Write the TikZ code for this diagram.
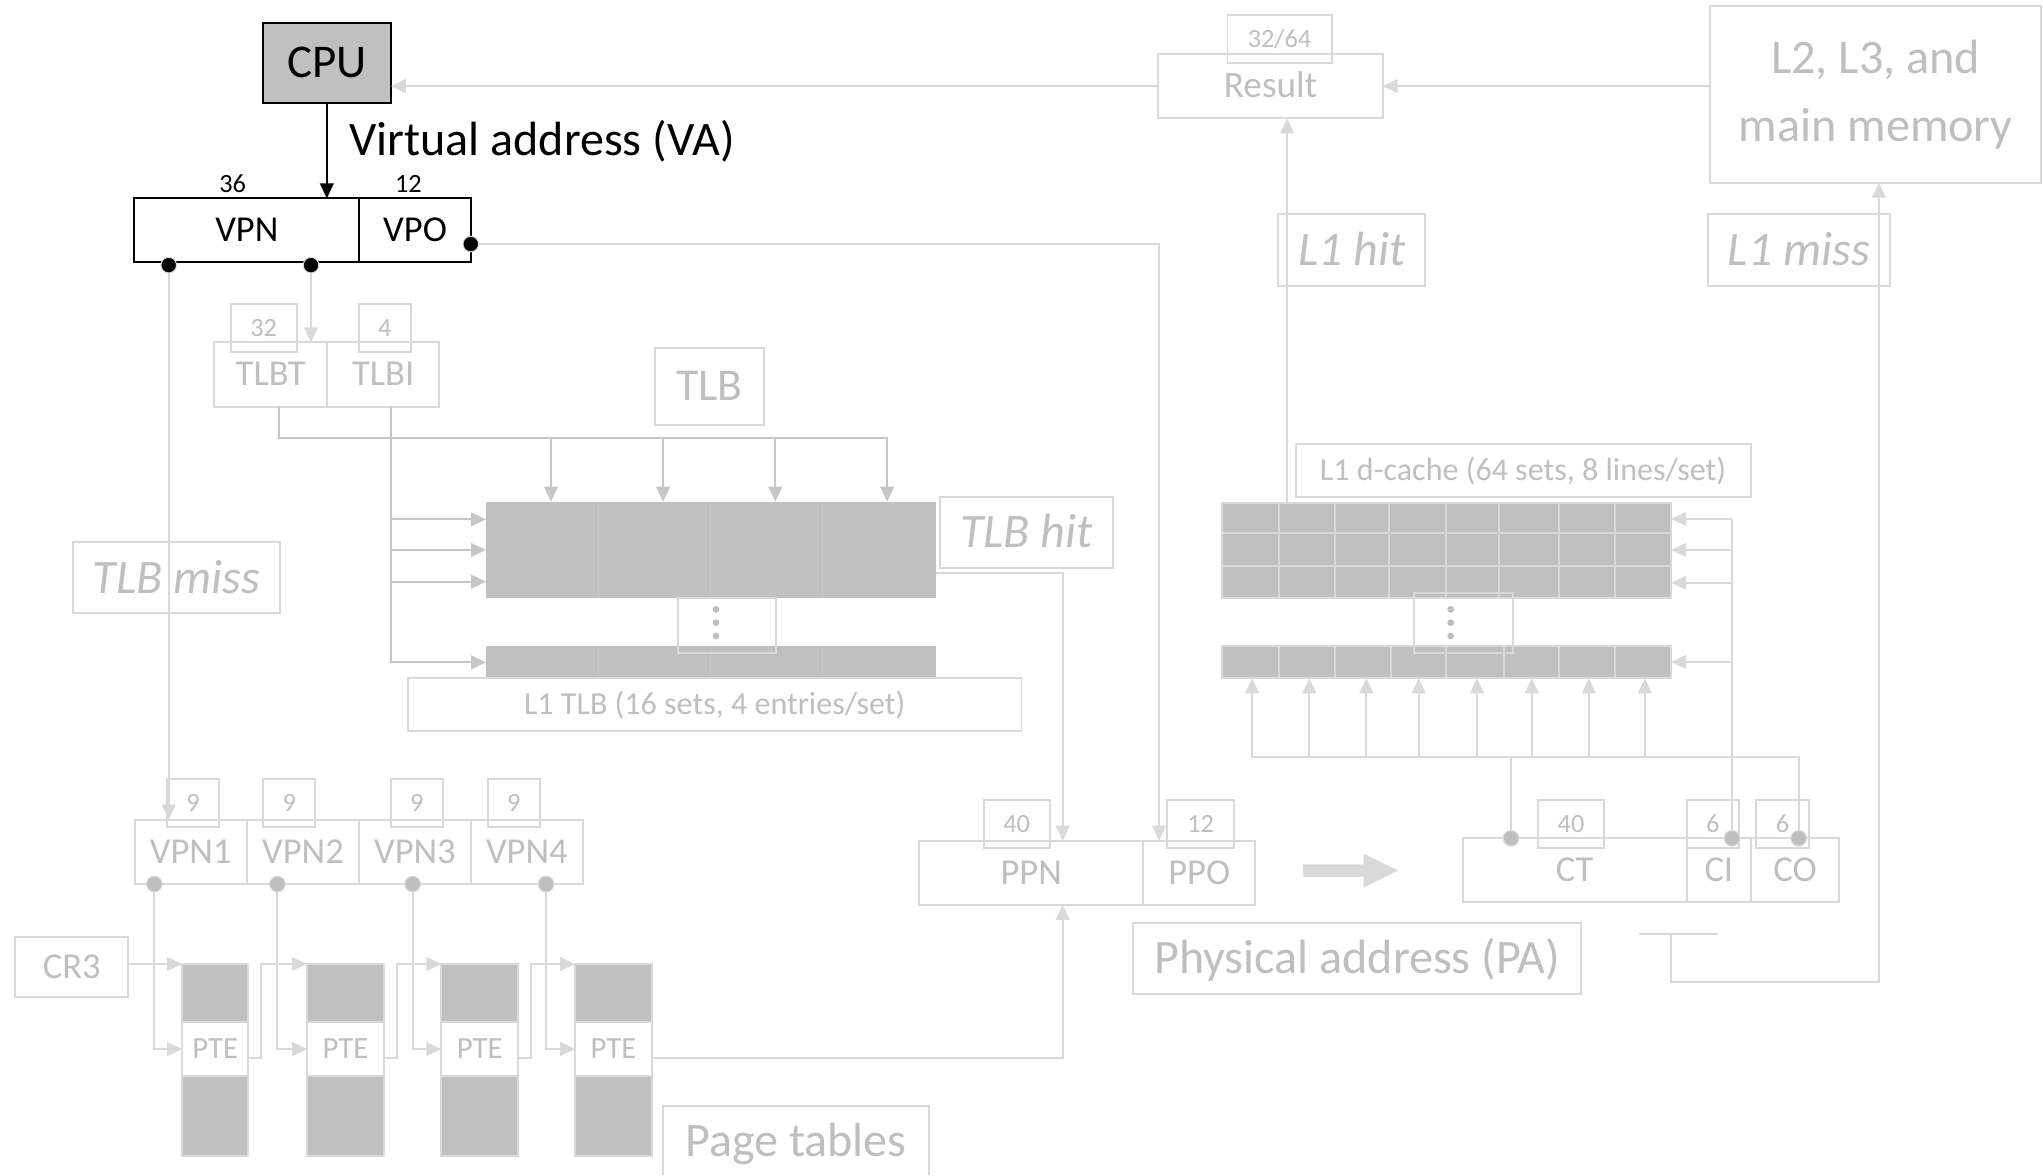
\documentclass[tikz,border=0pt]{standalone}
\usepackage{fontspec}
\setmainfont{Carlito}
\usetikzlibrary{arrows.meta,calc}
\definecolor{lineg}{HTML}{D9D9D9}
\definecolor{textg}{HTML}{BFBFBF}
\definecolor{fillg}{HTML}{C0C0C0}
\definecolor{arrg}{HTML}{C6C6C6}
\definecolor{seamg}{HTML}{C9C9C9}
\newcommand{\fsz}[1]{\fontsize{#1}{#1}\selectfont}

\begin{document}
\begin{tikzpicture}[x=1pt, y=-1pt,
  every node/.style={inner sep=0pt, outer sep=0pt},
  % a rectangle given by its left/top/right/bottom edges
  spanxy/.style args={#1/#2/#3/#4}{at={({(#1+#3)/2},{(#2+#4)/2})},
      minimum width={#3-#1}, minimum height={#4-#2}},
  gbox/.style={draw=lineg, line width=1.5pt, text=textg},
  bbox/.style={draw=black, line width=1.6pt, text=black},
  szbig/.style={font=\fsz{36.9}, text height=23.3pt, text depth=0pt},
  szbigit/.style={font=\fsz{36.9}\itshape, text height=23.3pt, text depth=0pt},
  szmid/.style={font=\fsz{28}, text height=17.7pt, text depth=0pt},
  szlab/.style={font=\fsz{24.6}, text height=15.5pt, text depth=0pt},
  szpte/.style={font=\fsz{23.6}, text height=14.9pt, text depth=0pt},
  szsmall/.style={font=\fsz{20.2}, text height=12.8pt, text depth=0pt},
  grayblk/.style={fill=fillg, draw=none},
  grayseg/.style={fill=fillg, draw=lineg, line width=1.5pt},
  gline/.style={draw=lineg, line width=1.5pt},
  dline/.style={draw=arrg, line width=1.5pt},
  arrowhd/.style={-{Triangle[length=11.5pt,width=10.5pt]}},
  garr/.style={gline, arrowhd},
  darr/.style={dline, arrowhd},
  barr/.style={draw=black, line width=1.6pt, arrowhd},
  bdot/.style={circle, fill=black, draw=lineg, line width=0.8pt, minimum size=12pt},
  gdot/.style={circle, fill=textg, draw=lineg, line width=0.8pt, minimum size=12pt},
]
\fill[white] (0,0) rectangle (1568,902);
\useasboundingbox (0,0) rectangle (1568,902);

% ---------------- CPU and virtual address ----------------
\node[bbox, fill=fillg, font=\fsz{36}, text height=22.8pt, text depth=0pt,
      spanxy=201.7/17.9/300/78.8] (cpu) {CPU};
\node[szbig, text=black, anchor=west] (va) at (268,108) {Virtual address (VA)};
\node[szsmall, text=black] (w36) at (178.6,141) {36};
\node[szsmall, text=black] (w12) at (313.4,141) {12};
\node[bbox, szmid, spanxy=103.1/152.2/275.8/201.3] (vpn) {VPN};
\node[bbox, szmid, spanxy=275.8/152.2/361.3/201.3] (vpo) {VPO};
\draw[barr] (cpu.south) -- (cpu.south |- vpn.north);
\node[bdot] (dv1) at (129.5,203.5) {};
\node[bdot] (dv2) at (238.7,203.5) {};
\node[bdot] (dvpo) at (361.3,187.3) {};

% ---------------- TLB index / tag ----------------
\node[gbox, szmid, spanxy=164.5/262.7/251/312.1] (tlbt) {TLBT};
\node[gbox, szmid, spanxy=251/262.7/337.2/312.1] (tlbi) {TLBI};
\node[gbox, szsmall, spanxy=177/233.3/227.7/270.4] (w32) {32};
\node[gbox, szsmall, spanxy=275.3/233.3/315.5/270.4] (w4) {4};
\draw[garr] (dv2) -- (dv2 |- tlbt.north);

\node[gbox, font=\fsz{35}, text height=22.1pt, text depth=0pt,
      spanxy=502.4/266.8/586.6/326] (tlblab) {TLB};

% ---------------- TLB array ----------------
\node[grayblk, spanxy=373/385/718.2/459.2] (tlbblk) {};
\node[grayblk, spanxy=373/495.6/718.2/521] (tlbbar) {};
\foreach \x in {459.6,545.1,631.3} {
  \draw[seamg, line width=1pt] (\x,385) -- (\x,459.2);
  \draw[seamg, line width=1pt] (\x,495.6) -- (\x,521);
}
\node[draw=lineg, line width=1.5pt, spanxy=520.5/459.2/595.7/500.9] (tlbgap) {};
\foreach \y in {467.7,477.9,488.1} \fill[textg] (549.5,\y) circle (2.6);

\node[gbox, szbigit, spanxy=721.8/381.2/853.9/436.2] (tlbhit) {TLB hit};
\node[gbox, szbigit, spanxy=56/416.3/215/470.8] (tlbmiss) {TLB miss};
\node[gbox, szlab, spanxy=313/520.6/784/560.8] (l1tlb) {L1 TLB (16 sets, 4 entries/set)};

% tag bus into the four ways
\coordinate (tb0) at (213.9,336.4);
\coordinate (tb1) at (680.9,336.4);
\draw[darr] (tlbt.south -| tb0) |- (tb1) -- (tlbblk.north -| tb1);
\foreach \x in {422.9,508.9,595.1}
  \draw[darr] (\x,336.4) -- (tlbblk.north -| \x,0);
% index bus into the sets
\coordinate (ti0) at (299.8,312.1);
\draw[darr] (tlbi.south -| ti0) |- (tlbbar.west);
\foreach \y in {398.6,422.1,446.4}
  \draw[darr] (ti0 |- 0,\y) -- (tlbblk.west |- 0,\y);

% ---------------- Page walk ----------------
\node[gbox, szmid, spanxy=103.3/629/189.4/678.5] (vpn1) {VPN1};
\node[gbox, szmid, spanxy=189.4/629/275.6/678.5] (vpn2) {VPN2};
\node[gbox, szmid, spanxy=275.6/629/361.3/678.5] (vpn3) {VPN3};
\node[gbox, szmid, spanxy=361.3/629/447.4/678.5] (vpn4) {VPN4};
\node[gbox, szsmall, spanxy=128.3/598/167.9/635] (w9a) {9};
\node[gbox, szsmall, spanxy=202.2/598/241.8/635] (w9b) {9};
\node[gbox, szsmall, spanxy=300/598/339.7/635] (w9c) {9};
\node[gbox, szsmall, spanxy=374.5/598/414.1/635] (w9d) {9};
\draw[garr] (dv1) -- (dv1 |- vpn1.north);

\node[gbox, szmid, spanxy=11.7/719/98.4/765] (cr3) {CR3};

\foreach \i/\l/\r in {1/139.8/190.5, 2/235.7/294.7, 3/338.8/397.5, 4/441.3/500.5} {
  \node[grayseg, spanxy=\l/739.9/\r/784.7] (ptop\i) {};
  \node[gbox, szpte, spanxy=\l/784.7/\r/825.6] (pte\i) {PTE};
  \node[grayseg, spanxy=\l/825.6/\r/887.3] (pbot\i) {};
}
\draw[garr] (cr3.east |- ptop1.north) -- (ptop1.north west);

\foreach \i/\x in {1/118.5, 2/212.9, 3/316.7, 4/419.1} {
  \node[gdot] (vd\i) at (\x,678.5) {};
  \draw[garr] (vd\i) |- (pte\i.west);
}
\foreach \i/\j/\cx in {1/2/200.6, 2/3/304.8, 3/4/407.9} {
  \coordinate (ch\i) at (\cx,812.3);
  \draw[garr] (pte\i.east |- ch\i) -- (ch\i) |- (ptop\j.north west);
}

\node[szbig, text=textg] (ptlab) at (610.85,876.3) {Page tables};
\draw[gline] (509,902) |- (712.7,849) -- (712.7,902);

% ---------------- Physical address ----------------
\node[gbox, szmid, spanxy=705.2/645.2/877.6/694.4] (ppn) {PPN};
\node[gbox, szmid, spanxy=877.6/645.2/963.2/694.4] (ppo) {PPO};
\node[gbox, szsmall, spanxy=755/614/805.6/650.6] (w40a) {40};
\node[gbox, szsmall, spanxy=896/614/947.1/650.6] (w12b) {12};
\node[gbox, szbig, spanxy=869.7/708.2/1213.5/762.6] (palab) {Physical address (PA)};

\coordinate (ch4) at (815.6,812.3);
\draw[garr] (pte4.east |- ch4) -| (ppn.south -| ch4);
\coordinate (hitx) at (815.6,439.5);
\draw[garr] (tlbblk.east |- hitx) -| (ppn.north -| hitx);
\draw[garr] (dvpo) -| ([xshift=12pt]ppo.north west);

\fill[lineg] (1000.2,663.4) -- (1046.5,663.4) -- (1046.5,655) -- (1072.9,668.15)
  -- (1046.5,681.3) -- (1046.5,672.9) -- (1000.2,672.9) -- cycle;

\node[gbox, szmid, spanxy=1122.6/643.4/1294.5/692.6] (ct) {CT};
\node[gbox, szmid, spanxy=1294.5/643.4/1343.9/692.6] (ci) {CI};
\node[gbox, szmid, spanxy=1343.9/643.4/1411.5/692.6] (co) {CO};
\node[gbox, szsmall, spanxy=1180.2/614/1231.3/650.6] (w40b) {40};
\node[gbox, szsmall, spanxy=1294.5/614/1334.7/650.6] (w6a) {6};
\node[gbox, szsmall, spanxy=1347.8/614/1388.2/650.6] (w6b) {6};
\node[gdot] (ctd) at (1159.7,643.4) {};
\node[gdot] (cid) at (1329.4,643.4) {};
\node[gdot] (cod) at (1380.5,643.4) {};

% ---------------- L1 d-cache ----------------
\node[gbox, szlab, spanxy=994.3/341/1343.6/381.3] (l1dlab) {L1 d-cache (64 sets, 8 lines/set)};
\node[grayseg, spanxy=938/385.8/1282.6/459.2] (cacheblk) {};
\node[grayseg, spanxy=938/495.6/1282.6/520.6] (cachebar) {};
\foreach \x in {981.3,1024.6,1066.3,1110.1,1150.2,1196.2,1239.5}
  \draw[gline] (\x,385.8) -- (\x,459.2);
\foreach \y in {409.3,434.4}
  \draw[gline] (938,\y) -- (1282.6,\y);
\foreach \x in {981.9,1024.6,1067.6,1110.1,1154,1196.2,1239.5}
  \draw[gline] (\x,495.6) -- (\x,520.6);
\node[draw=lineg, line width=1.5pt, spanxy=1085/455.4/1161/501.4] (cgap) {};
\foreach \y in {467.7,477.9,488.1} \fill[textg] (1113.4,\y) circle (2.6);

% set index lines
\draw[gline] (cid) -- (cid |- 0,398.3);
\foreach \y in {398.3,422.1,447.2}
  \draw[garr] (cid |- 0,\y) -- (cacheblk.east |- 0,\y);
\draw[garr] (cid |- cachebar.east) -- (cachebar.east);

% tag and offset lines into the lines of a set
\coordinate (bus) at (961,581);
\draw[gline] (ctd) -- (ctd |- bus);
\draw[gline] (cod) |- (bus);
\foreach \x in {961,1004.9,1048.7,1088.9,1133.6,1175.6,1219.5,1262.4}
  \draw[garr] (\x,581) -- (cachebar.south -| \x,0);

% ---------------- Result and memory ----------------
\node[gbox, font=\fsz{28.6}, text height=18.1pt, text depth=0pt,
      spanxy=889/41.4/1061.2/90.8] (result) {Result};
\node[gbox, szsmall, spanxy=942.1/11.5/1022/48.6] (w3264) {32/64};
\node[gbox, align=center, font=\fontsize{37}{52.4}\selectfont,
      spanxy=1312.7/4.6/1566.5/140.2] (l2) {L2, L3, and\\main memory};
\node[gbox, szbigit, spanxy=980.9/164.2/1093.9/219.3] (l1hit) {L1 hit};
\node[gbox, szbigit, spanxy=1311/164.2/1450.2/219.3] (l1miss) {L1 miss};

\draw[garr] (result.west) -- (result.west -| cpu.east);
\draw[garr] (l2.west |- result.west) -- (result.east);
\coordinate (hitsrc) at (987.8,385.8);
\draw[garr] (hitsrc) -- (hitsrc |- result.south);

\coordinate (stubl) at (1258.2,717.1);
\coordinate (stubr) at (1318.8,717.1);
\coordinate (stubm) at (1282.3,717.1);
\coordinate (missc) at (1442,753.4);
\draw[gline] (stubl) -- (stubr);
\draw[garr] (stubm) |- (missc) -- (missc |- l2.south);

\end{tikzpicture}
\end{document}
